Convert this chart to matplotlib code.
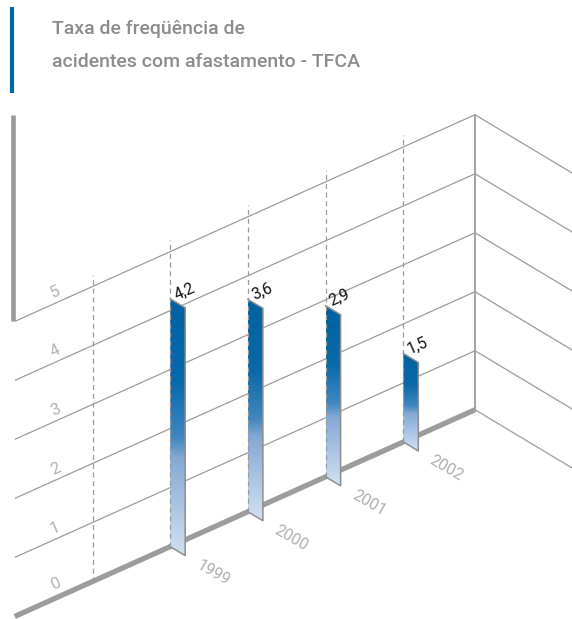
import numpy as np
import matplotlib
matplotlib.use("Agg")
import matplotlib.pyplot as plt
from matplotlib.transforms import Affine2D
from matplotlib.patches import Polygon
from matplotlib.colors import LinearSegmentedColormap

# ---- data -------------------------------------------------------------
years = ["1999", "2000", "2001", "2002"]
values = [4.2, 3.6, 2.9, 1.5]
value_labels = ["4,2", "3,6", "2,9", "1,5"]
y_ticks = [0, 1, 2, 3, 4, 5]
y_tick_labels = ["0", "1", "2", "3", "4", "5"]
title_lines = ["Taxa de freqüência de", "acidentes com afastamento - TFCA"]

plt.rcParams["font.family"] = ["Roboto", "DejaVu Sans"]

W, H = 572, 619
fig = plt.figure(figsize=(W / 100, H / 100), dpi=100)
ax = fig.add_axes([0, 0, 1, 1])
ax.set_xlim(0, W)
ax.set_ylim(H, 0)
ax.axis("off")

# oblique back wall: u = slot along the floor, v = value
DX, UNIT, SLOPE = 77.7, 59.0, 0.449
X0, Y0 = 92.5, 581.5
wall = Affine2D(np.array([[DX, 0.0, X0],
                          [-SLOPE * DX, -UNIT, Y0],
                          [0.0, 0.0, 1.0]]))
wall_t = wall + ax.transData
SIDE = np.array([1.0, 0.6])      # receding direction of the side wall
U_LEFT, U_CORNER = -1.0, 4.923
V_TOP = y_ticks[-1]
GRID = "#9c9c9c"

# back-wall grid
for v in y_ticks:
    lw = 3.8 if v == 0 else 0.9
    ax.plot([U_LEFT, U_CORNER], [v, v], transform=wall_t, color=GRID,
            lw=lw, solid_capstyle="butt", zorder=1)
    # side wall lines going down to the right
    cx, cy = wall.transform((U_CORNER, v))
    ex = W + 5
    ax.plot([cx, ex], [cy, cy + SIDE[1] * (ex - cx)], color=GRID, lw=0.9,
            zorder=1)

# corner edge
ax.plot([U_CORNER, U_CORNER], [0, V_TOP], transform=wall_t, color=GRID,
        lw=1.3, zorder=1)

# left frame post
lx, ly = wall.transform((U_LEFT, V_TOP))
top_y = wall.transform((U_CORNER, V_TOP))[1]
ax.plot([lx - 1.5, lx - 1.5], [ly, top_y], color="#999999", lw=3.3,
        solid_capstyle="butt", zorder=2)

# dashed category guides
for u in range(0, len(years) + 1):
    ax.plot([u, u], [0, V_TOP + 0.2], transform=wall_t, color="#9a9a9a",
            lw=0.9, ls=(0, (4, 3)), zorder=6)

# bars as thin panels standing out from the wall
cmap = LinearSegmentedColormap.from_list(
    "tfca", [(0.0, "#d2e1f3"), (0.38, "#84a9d4"), (0.46, "#3f87c0"),
             (0.68, "#0a69a8"), (1.0, "#0062a2")])
grad = np.linspace(0, 1, 256).reshape(-1, 1)
DEPTH = 15.0
for i, (val, lbl, yr) in enumerate(zip(values, value_labels, years)):
    u = i + 1
    bl = np.array(wall.transform((u, 0)))
    tl = np.array(wall.transform((u, val)))
    br = bl + DEPTH * SIDE
    tr = tl + DEPTH * SIDE
    poly = Polygon([bl, tl, tr, br], closed=True, transform=ax.transData,
                   facecolor="none", edgecolor="none", zorder=4)
    ax.add_patch(poly)
    im = ax.imshow(grad, cmap=cmap, origin="lower", aspect="auto",
                   extent=[tl[0], tr[0], br[1], tl[1]], zorder=4,
                   interpolation="bilinear")
    im.set_clip_path(poly)
    edge = np.array([tl, tr, br, bl])
    ax.plot(edge[:, 0], edge[:, 1], color="#8e8e8e", lw=1.1, zorder=5)

    ax.annotate(lbl, xy=tl, xytext=(10, 5.5), textcoords="offset points",
                ha="center", va="center", rotation=24, fontsize=11.5,
                color="#111111", zorder=7)
    ax.annotate(yr, xy=bl, xytext=(31, -19), textcoords="offset points",
                ha="center", va="center", rotation=-30, fontsize=11.5,
                color="#b0b0b0", zorder=7)

ax.set_xlim(0, W)
ax.set_ylim(H, 0)

# value axis labels along the wall
for v, t in zip(y_ticks, y_tick_labels):
    p = wall.transform((-0.48, v))
    ax.annotate(t, xy=p, xytext=(0, 8 if v else 10), textcoords="offset points",
                ha="center", va="center", rotation=24, fontsize=12,
                color="#b3b3b3")

# title block
ax.plot([12, 12], [7, 93], color="#0066a6", lw=3.0, solid_capstyle="butt")
for k, line in enumerate(title_lines):
    fig.text(52 / W, 1 - (34 + 33 * k) / H, line, fontsize=14,
             color="#8c8c8c", ha="left", va="baseline", fontweight="medium")

fig.savefig("out.png", dpi=100)
